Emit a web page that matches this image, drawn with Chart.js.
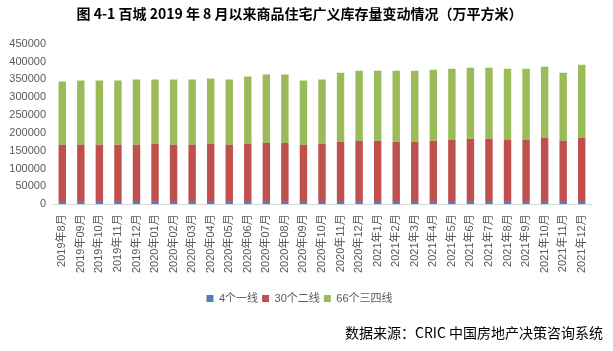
<!DOCTYPE html>
<html>
<head>
<meta charset="utf-8">
<script src="https://cdn.jsdelivr.net/npm/chart.js@4"></script>
<style>
  body { margin: 0; background: #fff; }
  #wrap { width: 613px; height: 351px; }
</style>
</head>
<body>
<div id="wrap"><canvas id="chart" width="613" height="351"></canvas></div>
<script>
const months = ['2019年8月', '2019年09月', '2019年10月', '2019年11月', '2019年12月',
  '2020年01月', '2020年02月', '2020年03月', '2020年04月', '2020年05月', '2020年06月',
  '2020年07月', '2020年08月', '2020年09月', '2020年10月', '2020年11月', '2020年12月',
  '2021年1月', '2021年2月', '2021年3月', '2021年4月', '2021年5月', '2021年6月',
  '2021年7月', '2021年8月', '2021年9月', '2021年10月', '2021年11月', '2021年12月'];

const tier1 = [9000, 9000, 9000, 9000, 9000, 9000, 9000, 9000, 9000, 9000, 9000, 9000, 9000, 9000, 9000,
  9000, 9000, 9000, 9000, 9000, 9000, 9000, 9000, 9000, 9000, 9000, 9000, 9000, 9000];
const tier2 = [157800, 157800, 157800, 157800, 157800, 160600, 157800, 157800, 160600, 157800, 160600,
  163400, 163400, 157800, 160600, 166200, 169000, 169000, 166200, 166200, 169000, 171800, 174700,
  174700, 171800, 171800, 177500, 169000, 177500];
const tier34 = [177200, 180000, 180000, 180000, 182800, 180000, 182800, 182800, 182800, 182800, 188400,
  191300, 191300, 180000, 180000, 193800, 196600, 196600, 199400, 199400, 199400, 199400, 199300,
  199300, 199400, 199400, 199400, 191000, 205000];

const seriesNames = ['4个一线', '30个二线', '66个三四线'];
const colors = ['#4F81BD', '#C0504D', '#9BBB59'];
const titleText = '图 4-1 百城 2019 年 8 月以来商品住宅广义库存量变动情况（万平方米）';
const sourceText = '数据来源：CRIC 中国房地产决策咨询系统';

const axisFont = { family: '"Liberation Sans", "Noto Sans CJK SC", sans-serif', size: 11 };

// draws the source note in the lower right corner
const sourceNote = {
  id: 'sourceNote',
  afterDraw(chart) {
    const ctx = chart.ctx;
    ctx.save();
    ctx.font = '14px "Noto Sans CJK SC", sans-serif';
    ctx.fillStyle = '#000';
    ctx.textAlign = 'right';
    ctx.textBaseline = 'middle';
    ctx.fillText(sourceText, 603, 333);
    ctx.restore();
  }
};

new Chart(document.getElementById('chart'), {
  type: 'bar',
  data: {
    labels: months,
    datasets: [tier1, tier2, tier34].map((d, i) => ({
      label: seriesNames[i],
      data: d,
      backgroundColor: colors[i],
      barPercentage: 0.4,
      categoryPercentage: 1
    }))
  },
  options: {
    responsive: false,
    animation: false,
    layout: { padding: { left: 8, right: 22, top: 0, bottom: 37 } },
    plugins: {
      title: {
        display: true,
        text: titleText,
        color: '#000',
        font: { family: '"Noto Sans CJK SC", sans-serif', size: 14, weight: 'bold' },
        padding: { top: 5, bottom: 22 }
      },
      legend: {
        position: 'bottom',
        labels: {
          boxWidth: 7,
          boxHeight: 7,
          padding: 4,
          color: '#595959',
          font: axisFont
        }
      },
      tooltip: { enabled: false }
    },
    scales: {
      x: {
        stacked: true,
        grid: { display: false, drawTicks: false },
        border: { color: '#D9D9D9' },
        ticks: { color: '#595959', font: axisFont, minRotation: 90, maxRotation: 90, autoSkip: false, padding: 10 },
        afterFit(scale) { scale.height += 6; }
      },
      y: {
        stacked: true,
        min: 0,
        max: 450000,
        grid: { display: false, drawTicks: false },
        border: { display: false },
        ticks: {
          stepSize: 50000, color: '#595959', font: axisFont, padding: 7,
          callback: v => String(v)
        },
        afterFit(scale) { scale.width = 45; }
      }
    }
  },
  plugins: [sourceNote]
});
</script>
</body>
</html>
